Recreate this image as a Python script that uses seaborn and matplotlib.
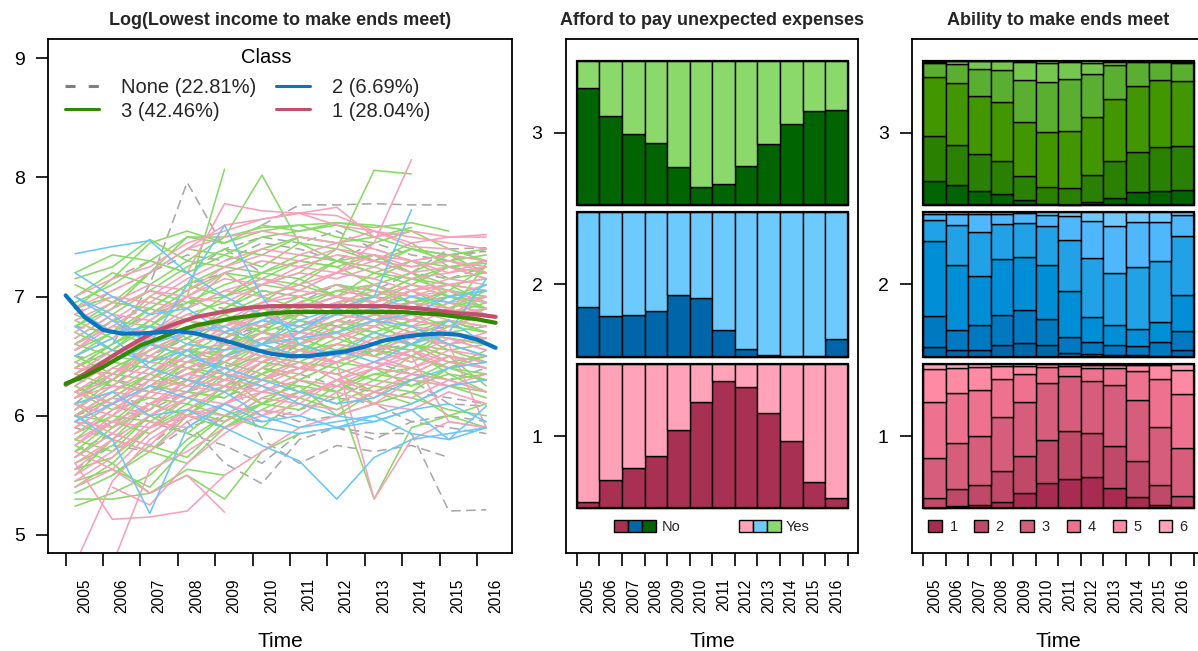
import numpy as np
import pandas as pd
import matplotlib
matplotlib.use("Agg")
import matplotlib.pyplot as plt
import seaborn as sns
from matplotlib.patches import Rectangle
from matplotlib.lines import Line2D
from matplotlib.legend_handler import HandlerTuple

sns.set_theme(style="ticks")
plt.rcParams["font.family"] = ["Liberation Sans", "DejaVu Sans"]

# ---------------------------------------------------------------- data
years = [2005, 2006, 2007, 2008, 2009, 2010, 2011, 2012, 2013, 2014, 2015, 2016]
year_labels = [str(y) for y in years]

# observation times of the panel waves (continuous time axis)
wave_times = [2005.25, 2006.25, 2007.25, 2008.25, 2009.25, 2010.25,
              2011.25, 2012.25, 2013.25, 2014.25, 2015.25, 2016.25]

class_names = ["None", "3", "2", "1"]
class_labels = ["None (22.81%)", "3 (42.46%)", "2 (6.69%)", "1 (28.04%)"]

# individual trajectories of log(lowest income to make ends meet)
traj_none = [
    [6.40, 6.60, 7.10, 7.96, 7.40, 7.20, None, None, None, None, None, None],
    [None, None, None, None, None, 7.60, 7.77, 7.77, 7.78, 7.77, 7.77, None],
    [6.60, 6.80, 6.90, 7.10, 7.20, 7.30, 7.25, 7.35, 7.30, 7.20, 7.40, 7.41],
    [5.90, 5.80, 6.00, 5.95, 5.60, 5.43, 5.80, 5.90, 5.85, 5.85, 5.20, 5.21],
    [6.20, 6.30, 6.25, 6.40, 6.50, 6.45, 6.60, 6.50, 6.55, 6.60, 6.50, 6.45],
    [6.00, 6.15, 6.10, 6.20, 6.30, 6.20, 6.35, 6.25, 6.20, 6.30, 6.10, 6.08],
    [6.75, 6.70, 6.85, 6.95, 6.90, 7.05, 7.00, 7.10, 7.00, 6.95, 7.05, 6.95],
    [5.70, 5.85, 5.75, 6.00, 5.90, 6.05, 5.95, 6.00, 6.10, 5.95, 5.90, 5.85],
    [6.50, 6.45, 6.60, 6.70, 6.65, 6.75, 6.70, 6.65, 6.80, 6.70, 6.75, 6.75],
    [None, 7.15, 7.30, 7.20, 7.40, 7.50, 7.45, 7.55, 7.40, 7.30, 7.35, 7.38],
    [6.30, 6.25, 6.50, 6.40, 6.45, 5.80, 5.60, 5.75, 5.70, 5.75, 5.65, None],
    [6.10, 6.35, 6.55, 6.70, 6.60, 6.80, 6.85, 6.75, 6.90, 6.95, 6.85, 6.90],
    [5.55, 5.75, 5.70, 5.90, 6.00, 5.95, 6.05, 6.15, 6.10, 6.20, 6.15, 6.10],
    [6.85, 7.05, 7.20, 7.35, 7.30, 7.45, 7.40, 7.30, 7.45, 7.35, 7.30, 7.40],
    [6.35, 6.55, 6.50, 6.65, 6.80, 6.75, 6.85, 6.95, 6.85, 6.80, 6.90, 6.85],
    [5.80, 5.95, 6.05, 6.20, 6.15, 6.30, 6.40, 6.35, 6.45, 6.35, 6.30, 6.40],
    [None, None, None, 6.70, 6.60, 6.75, 6.95, 7.10, 7.05, 7.20, 7.15, 7.25],
    [6.00, 6.10, 5.95, 5.85, 5.75, 5.60, 5.85, 5.90, 5.80, 5.95, 6.00, 5.95],
]

traj_class3 = [
    [6.45, 6.60, 6.75, 7.00, 8.07, None, None, None, None, None, None, None],
    [None, 6.90, 7.20, 7.50, 7.50, 8.02, 7.45, 7.30, 7.35, 7.20, 7.00, 7.05],
    [None, None, None, None, 6.90, 7.10, 7.20, 7.40, 8.06, 8.03, None, None],
    [5.24, 5.35, 5.50, 5.80, 6.00, 6.10, 6.20, 6.15, 6.30, 6.25, 6.40, 6.35],
    [7.15, 7.25, 7.48, 7.30, 7.50, 7.58, 7.60, 7.62, 7.60, 7.55, None, None],
    [6.20, 6.35, 6.30, 6.55, 6.60, 6.70, 6.65, 6.80, 6.75, 6.90, 6.85, 6.95],
    [5.90, 6.10, 6.25, 6.20, 6.40, 6.50, 6.45, 6.60, 6.55, 6.70, 6.65, 6.60],
    [6.60, 6.80, 6.75, 6.95, 7.00, 7.10, 7.05, 7.20, 7.15, 7.30, 7.25, 7.28],
    [5.50, 5.80, 5.70, 6.00, 5.90, 6.10, 6.30, 6.20, 6.40, 6.35, 6.50, 6.45],
    [6.85, 6.70, 7.00, 6.90, 7.20, 7.00, 7.10, 7.30, 7.20, 7.10, 7.25, 7.15],
    [6.00, 6.20, 6.40, 6.30, 6.60, 6.50, 6.70, 6.90, 6.80, 6.60, 6.70, 6.75],
    [5.75, 5.60, 5.90, 6.10, 6.00, 6.20, 6.15, 6.30, 6.10, 6.20, 6.00, 5.90],
    [6.35, 6.50, 6.45, 6.70, 6.85, 6.70, 6.90, 7.00, 6.95, 7.05, 6.90, 7.00],
    [7.00, 7.20, 7.10, 7.30, 7.25, 7.40, 7.50, 7.45, 7.50, 7.40, 7.35, 7.30],
    [6.10, 5.90, 6.20, 6.40, 6.35, 6.55, 6.60, 6.50, 6.65, 6.60, 6.45, 6.50],
    [5.40, 5.60, 5.35, 5.50, 5.30, 5.70, 5.85, None, None, None, None, None],
    [6.50, 6.35, 6.60, 6.55, 6.75, 6.90, 6.80, 6.70, 6.85, 6.95, 7.05, 7.00],
    [5.65, 5.90, 6.05, 6.30, 6.20, 6.45, 6.40, 6.55, 6.60, 6.50, 6.70, 6.60],
    [6.75, 6.90, 7.05, 6.95, 7.10, 7.20, 7.30, 7.25, 7.35, 7.20, 7.10, 7.15],
    [None, None, 6.20, 6.40, 6.30, 6.50, 6.60, 6.70, 6.50, 6.60, 6.55, 6.45],
    [6.25, 6.10, 6.30, 6.50, 6.70, 6.60, 6.50, 6.75, 6.70, 6.80, 6.95, 6.90],
    [5.85, 6.00, 5.95, 6.15, 6.25, 6.10, 6.30, 6.45, 6.40, 6.25, 6.35, 6.30],
    [6.95, 7.10, 7.30, 7.20, 7.35, 7.50, 7.55, 7.60, 7.50, 7.58, None, None],
    [6.40, 6.60, 6.80, 6.65, 6.90, 7.05, 7.00, 6.90, 7.10, 7.00, 6.90, 7.05],
    [None, None, None, 6.20, 6.35, 6.10, 6.30, 6.20, 5.30, 5.90, 6.00, 6.10],
    [6.05, 6.25, 6.20, 6.45, 6.50, 6.65, 6.55, 6.60, 6.75, 6.65, 6.80, 6.70],
    [5.95, 5.80, 6.10, 6.00, 6.25, 6.35, 6.20, 6.40, 6.30, 6.50, 6.40, 6.55],
    [6.70, 6.55, 6.80, 7.00, 6.85, 6.95, 7.15, 7.00, 6.90, 7.05, 7.10, 6.95],
    [None, 5.50, 5.70, 5.60, 5.90, 6.05, 6.20, 6.10, 6.25, 6.20, 6.40, 6.30],
    [6.30, 6.45, 6.60, 6.50, 6.55, 6.75, 6.85, 6.95, 6.85, 6.75, 6.80, 6.70],
    [5.60, 5.75, 6.00, 5.85, 6.10, 6.30, 6.25, 6.00, 6.20, 6.15, 6.05, 6.00],
    [7.10, 6.95, 7.20, 7.40, 7.35, 7.25, 7.45, 7.40, 7.30, 7.45, 7.25, 7.30],
    [6.15, 6.30, 6.50, 6.45, 6.60, 6.50, 6.65, 6.55, 6.70, 6.60, 6.50, 6.25],
    [6.55, 6.70, 6.60, 6.80, 6.70, 6.60, 6.85, 6.95, 7.00, 6.90, 7.00, 7.10],
    [5.80, 6.05, 6.15, 6.10, 6.35, 6.30, 6.50, 6.45, 6.60, 6.55, 6.35, 6.20],
    [None, None, None, None, None, 6.40, 6.60, 6.70, 6.80, 6.90, 6.85, 7.28],
    [6.90, 7.00, 6.85, 7.05, 7.20, 7.15, 7.30, 7.25, 7.10, 7.20, 7.35, 7.40],
    [5.45, 5.55, 5.40, 5.75, 6.00, 5.90, 6.15, 6.05, 6.20, 6.10, 6.25, 6.20],
    [6.45, 6.30, 6.55, 6.65, 6.50, 6.70, 6.60, 6.80, 6.90, 6.85, 6.75, 6.90],
    [6.00, 6.15, 6.35, 6.55, 6.45, 6.35, 6.55, 6.70, 6.60, 6.70, 6.60, 6.50],
    [6.65, 6.85, 7.05, 7.25, 7.40, 7.35, 7.50, 7.45, 7.30, 7.40, 7.35, 7.20],
    [5.35, 5.50, 5.75, 5.65, 5.95, 6.10, 6.05, 6.25, 6.35, 6.30, 6.45, 6.40],
    [6.20, 6.05, 6.25, 6.45, 6.40, 6.60, 6.75, 6.65, 6.55, 6.70, 6.80, 6.75],
    [5.70, 5.95, 5.85, 6.05, 6.20, 6.40, 6.30, 6.45, 6.55, 6.45, 6.60, 6.65],
    [6.90, 7.15, 7.45, 7.55, 7.45, 7.60, 7.55, 7.62, 7.58, 7.62, 7.55, None],
    [6.35, 6.25, 6.45, 6.60, 6.80, 6.75, 6.95, 7.05, 7.10, 6.95, 7.05, 6.90],
    [6.05, 6.30, 6.20, 6.35, 6.45, 6.65, 6.60, 6.75, 6.65, 6.80, 6.75, 6.85],
    [5.55, 5.65, 5.90, 6.05, 5.95, 6.15, 6.25, 6.20, 6.35, 6.40, 6.30, 6.35],
    [6.50, 6.70, 6.90, 6.80, 7.00, 7.20, 7.15, 7.30, 7.20, 7.30, 7.15, 7.20],
    [6.80, 6.65, 6.90, 7.10, 7.00, 7.15, 7.10, 7.00, 7.20, 7.15, 7.05, 7.25],
    [5.95, 6.15, 6.35, 6.25, 6.45, 6.60, 6.50, 6.65, 6.80, 6.70, 6.55, 6.60],
    [6.15, 6.40, 6.55, 6.70, 6.65, 6.80, 6.95, 6.85, 6.95, 7.10, 7.00, 6.95],
    [None, 6.30, 6.50, 6.70, 6.65, 6.85, 7.00, 7.10, 7.00, 7.15, 7.25, 7.20],
    [5.30, 5.30, 5.35, 5.55, 5.50, None, None, None, None, None, None, None],
    [6.60, 6.50, 6.70, 6.85, 6.95, 6.85, 7.00, 7.10, 7.05, 6.95, 7.00, 6.90],
    [None, None, None, None, 6.20, 6.40, 6.35, 6.55, 6.50, 6.70, 6.65, 6.60],
    [5.80, 5.70, 6.00, 6.20, 6.15, 6.35, 6.45, 6.40, 6.55, 6.50, 6.40, 6.50],
    [6.40, 6.55, 6.75, 6.70, 6.85, 7.00, 6.90, 7.05, 7.00, 7.15, 7.10, 7.05],
    [6.00, 5.95, 6.20, 6.30, 6.25, 6.45, 6.55, 6.50, 6.60, 6.55, 6.70, 6.65],
    [7.20, 7.35, 7.30, 7.50, 7.45, 7.55, 7.60, 7.50, 7.45, 7.55, 7.40, 7.30],
    [6.25, 6.45, 6.40, 6.60, 6.55, 6.70, 6.80, 6.75, 6.85, 6.80, 6.95, 6.85],
    [5.65, 5.85, 6.10, 6.00, 6.20, 6.30, 6.40, 6.35, 6.20, 6.30, 6.25, 6.15],
    [6.75, 6.95, 6.90, 7.10, 7.25, 7.20, 7.35, 7.30, 7.25, 7.40, 7.30, 7.35],
    [None, None, 6.45, 6.60, 6.80, 6.70, 6.90, 6.85, 7.00, 6.90, 7.05, 7.00],
    [6.10, 6.20, 6.35, 6.55, 6.50, 6.60, 6.70, 6.80, 6.70, 6.60, 6.75, 6.70],
]

traj_class2 = [
    [7.36, 7.42, 7.47, 7.20, 7.00, 6.85, 6.70, 6.90, 6.80, 6.75, 6.60, 6.50],
    [7.00, 6.80, 6.60, 7.10, 7.60, 7.00, 6.60, 6.50, 6.70, 6.60, 6.80, 6.60],
    [None, None, None, 6.20, 6.50, 6.60, 6.80, 6.90, 7.00, 7.73, None, None],
    [6.00, 5.80, 5.18, 5.90, 6.10, 5.95, 6.00, 5.90, 5.95, 6.05, 5.80, 6.08],
    [6.10, 6.20, 6.00, 6.05, 5.90, 5.75, 5.62, 5.30, 5.65, 5.80, 5.85, 5.90],
    [6.90, 6.70, 6.75, 6.60, 6.55, 6.60, 6.50, 6.55, 6.45, 6.60, 6.70, 7.15],
    [6.50, 6.65, 6.40, 6.30, 6.20, 6.00, 5.90, 5.95, 6.00, 5.85, 5.80, 5.90],
    [7.00, 6.85, 6.60, 6.70, 6.75, 6.60, 6.65, 6.70, 6.80, 6.85, 7.00, 7.05],
    [6.30, 6.45, 6.60, 6.50, 6.40, 6.30, 6.20, 6.10, 6.15, 6.30, 6.40, 6.45],
    [6.75, 6.55, 6.45, 6.55, 6.35, 6.25, 6.10, 6.00, 5.95, 6.05, 6.10, 5.95],
    [7.20, 7.00, 6.85, 6.90, 6.70, 6.80, 6.75, 6.85, 6.90, 7.00, 6.95, 7.10],
    [5.95, 6.10, 6.25, 6.15, 6.05, 5.90, 5.85, 5.90, 6.00, 6.10, 6.25, 6.30],
]

traj_class1 = [
    [4.75, 5.45, 5.80, 6.00, 6.10, 6.20, 6.15, 6.30, 6.25, 6.40, None, None],
    [None, 4.75, 5.55, 5.70, 5.90, 6.00, 6.10, 6.05, 6.20, 6.15, 6.30, 6.20],
    [None, None, None, None, None, None, None, 7.20, 7.45, 8.15, None, None],
    [5.60, 5.13, 5.15, 5.20, 5.50, 5.70, 5.90, 6.00, 6.10, 6.05, 6.20, 6.10],
    [6.00, 6.20, 6.40, 6.30, 6.55, 6.70, 6.65, 6.80, 6.75, 6.90, 6.85, 6.90],
    [6.30, 6.50, 6.65, 6.80, 6.75, 6.95, 7.00, 7.10, 6.95, 7.05, 7.15, 7.10],
    [6.55, 6.80, 7.00, 7.20, 7.78, 7.72, 7.70, 7.75, 7.50, 7.55, 7.50, 7.52],
    [5.80, 5.95, 6.10, 6.25, 6.20, 6.40, 6.50, 6.45, 6.60, 6.50, 6.65, 6.55],
    [6.10, 6.00, 6.30, 6.45, 6.60, 6.50, 6.70, 6.85, 6.80, 6.95, 6.90, 6.80],
    [5.50, 5.70, 5.90, 6.00, 5.95, 6.15, 6.10, 6.30, 6.20, 6.35, 6.25, 6.30],
    [6.80, 6.95, 7.10, 7.05, 7.25, 7.35, 7.30, 7.40, 7.35, 7.25, 7.30, 7.20],
    [6.20, 6.40, 6.35, 6.60, 6.70, 6.85, 6.75, 6.90, 7.00, 6.90, 6.85, 7.00],
    [5.65, 5.85, 5.75, 6.05, 6.25, 6.20, 6.35, 6.50, 6.40, 6.55, 6.45, 6.40],
    [6.45, 6.30, 6.60, 6.75, 6.70, 6.90, 6.85, 6.95, 7.05, 7.00, 7.10, 7.05],
    [5.95, 6.15, 6.05, 6.30, 6.40, 6.30, 6.50, 6.60, 6.55, 6.45, 6.60, 6.50],
    [5.40, 5.55, 5.35, 5.50, 5.19, None, None, None, None, None, None, None],
    [6.65, 6.85, 6.80, 7.00, 7.15, 7.10, 7.25, 7.20, 7.35, 7.30, 7.20, 7.25],
    [6.00, 5.85, 6.10, 6.20, 6.35, 6.50, 6.40, 6.45, 5.30, 5.80, 5.95, 5.90],
    [6.90, 7.05, 7.20, 7.40, 7.60, 7.65, 7.70, 7.60, 7.55, 7.45, 7.50, 7.50],
    [5.75, 6.00, 6.20, 6.15, 6.30, 6.45, 6.55, 6.50, 6.65, 6.70, 6.60, 6.70],
    [6.35, 6.55, 6.50, 6.70, 6.65, 6.80, 6.90, 7.00, 6.90, 6.80, 6.95, 6.85],
    [6.15, 6.25, 6.45, 6.40, 6.50, 6.60, 6.70, 6.65, 6.75, 6.85, 6.70, 6.60],
    [5.90, 6.10, 6.00, 6.20, 6.35, 6.30, 6.45, 6.30, 6.40, 6.50, 5.95, 5.90],
    [6.60, 6.75, 6.95, 6.90, 7.05, 7.00, 7.10, 7.20, 7.15, 7.05, 7.10, 7.15],
    [None, None, None, 7.40, 7.50, 7.55, 7.50, 7.45, 7.55, 7.42, 7.40, None],
    [5.55, 5.80, 5.70, 5.95, 6.10, 6.00, 6.20, 6.25, 6.15, 6.35, 6.30, 6.20],
    [6.25, 6.45, 6.60, 6.55, 6.75, 6.85, 6.95, 6.90, 7.00, 7.10, 7.05, 6.95],
    [5.85, 6.05, 6.25, 6.35, 6.30, 6.50, 6.60, 6.70, 6.60, 6.75, 6.70, 6.65],
    [6.50, 6.65, 6.85, 7.00, 6.95, 7.10, 7.20, 7.15, 7.25, 7.15, 7.20, 7.30],
    [5.70, 5.55, 5.85, 6.05, 6.00, 6.20, 6.30, 6.25, 6.40, 6.35, 6.50, 6.45],
    [6.05, 6.25, 6.20, 6.40, 6.55, 6.65, 6.60, 6.75, 6.85, 6.80, 6.75, 6.85],
    [7.00, 7.15, 7.25, 7.45, 7.55, 7.65, 7.70, 7.68, 7.55, 7.50, 7.45, 7.40],
    [5.45, 5.65, 5.95, 5.90, 6.10, 6.25, 6.15, 6.30, 6.45, 6.40, 6.55, 6.50],
    [6.40, 6.35, 6.55, 6.70, 6.80, 6.75, 6.90, 7.00, 6.95, 7.05, 6.95, 7.00],
    [6.15, 6.35, 6.50, 6.45, 6.65, 6.80, 6.75, 6.85, 6.80, 6.90, 6.80, 6.75],
    [5.95, 5.90, 6.10, 6.30, 6.25, 6.45, 6.55, 6.45, 6.60, 6.70, 6.65, 6.55],
    [6.70, 6.90, 7.05, 7.00, 7.20, 7.30, 7.25, 7.35, 7.30, 7.20, 7.25, 7.15],
    [5.60, 5.80, 6.00, 6.15, 6.10, 6.30, 6.40, 6.35, 6.45, 6.55, 6.40, 6.45],
    [6.30, 6.50, 6.70, 6.85, 6.80, 6.95, 7.05, 7.00, 7.10, 7.00, 7.05, 6.95],
    [None, 5.40, 5.25, 5.60, 5.85, 6.05, 6.00, 6.20, 6.10, 6.30, 6.25, 6.35],
    [6.00, 6.20, 6.15, 6.35, 6.50, 6.45, 6.65, 6.70, 6.60, 6.70, 6.60, 6.65],
    [6.55, 6.75, 6.70, 6.90, 7.05, 7.15, 7.05, 7.20, 7.30, 7.25, 7.30, 7.25],
    [5.75, 5.95, 5.90, 6.15, 6.30, 6.25, 6.40, 6.55, 6.50, 6.40, 6.50, 6.40],
    [6.20, 6.10, 6.35, 6.50, 6.45, 6.65, 6.70, 6.65, 6.80, 6.75, 6.90, 6.80],
    [6.85, 7.00, 6.95, 7.15, 7.30, 7.40, 7.35, 7.45, 7.40, 7.30, 7.35, 7.30],
    [5.90, 6.10, 6.30, 6.25, 6.40, 6.55, 6.50, 6.60, 6.55, 6.65, 6.60, 5.90],
]

# smoothed class trajectories
smooth_times = [2005.0, 2005.5, 2006.0, 2006.5, 2007.0, 2007.5, 2008.0, 2008.5,
                2009.0, 2009.5, 2010.0, 2010.5, 2011.0, 2011.5, 2012.0, 2012.5,
                2013.0, 2013.5, 2014.0, 2014.5, 2015.0, 2015.5, 2016.0, 2016.5]
smooth_class1 = [6.26, 6.35, 6.45, 6.55, 6.64, 6.72, 6.78, 6.83, 6.86, 6.89, 6.91, 6.92,
                 6.92, 6.92, 6.92, 6.92, 6.92, 6.92, 6.91, 6.90, 6.88, 6.86, 6.85, 6.83]
smooth_class3 = [6.27, 6.33, 6.41, 6.50, 6.59, 6.65, 6.71, 6.76, 6.79, 6.82, 6.84, 6.86,
                 6.87, 6.87, 6.87, 6.87, 6.87, 6.87, 6.87, 6.86, 6.85, 6.83, 6.81, 6.78]
smooth_class2 = [7.01, 6.83, 6.72, 6.69, 6.69, 6.70, 6.71, 6.69, 6.65, 6.61, 6.56, 6.52,
                 6.50, 6.50, 6.52, 6.54, 6.58, 6.63, 6.66, 6.68, 6.69, 6.68, 6.64, 6.57]

# afford to pay unexpected expenses: share answering "No" (%)
afford_no_class3 = [81.2, 61.6, 49.3, 43.3, 26.2, 12.3, 14.6, 27.3, 42.6, 56.0, 65.3, 65.7]
afford_no_class2 = [34.4, 28.1, 29.1, 31.9, 43.0, 40.9, 18.8, 5.3, 1.4, 0.5, 0.5, 12.1]
afford_no_class1 = [4.2, 19.7, 28.1, 36.0, 54.5, 73.8, 87.9, 83.8, 65.7, 46.2, 18.1, 7.4]
afford_labels = ["No", "Yes"]

# ability to make ends meet: shares of answers 1..6 per year (%)
ends_labels = ["1", "2", "3", "4", "5", "6"]
ends_class3 = [
    [17.1, 13.9, 10.0, 7.9, 3.7, 1.0, 0.5, 2.3, 5.1, 9.3, 10.0, 10.4],
    [30.8, 27.8, 25.5, 22.7, 16.2, 11.8, 11.6, 18.5, 25.5, 27.8, 30.3, 30.8],
    [41.0, 42.8, 39.8, 40.5, 38.0, 37.7, 39.4, 40.5, 43.1, 45.1, 46.1, 44.9],
    [9.5, 13.2, 19.2, 22.5, 28.9, 34.7, 35.9, 29.6, 23.1, 16.9, 12.5, 12.3],
    [0.8, 1.8, 5.1, 6.0, 12.3, 13.2, 11.6, 7.4, 2.3, 0.5, 0.6, 1.0],
    [0.8, 0.5, 0.4, 0.4, 0.9, 1.6, 1.0, 1.6, 0.9, 0.4, 0.5, 0.6],
]
ends_class2 = [
    [6.9, 4.6, 4.6, 7.9, 9.3, 7.9, 2.3, 1.9, 1.0, 1.0, 0.8, 4.6],
    [21.3, 13.9, 17.4, 20.8, 23.1, 18.3, 11.6, 8.3, 6.9, 6.5, 9.3, 13.4],
    [51.9, 44.9, 33.6, 38.9, 36.6, 36.8, 31.3, 17.6, 13.9, 12.0, 13.9, 24.8],
    [14.4, 27.8, 31.0, 24.3, 23.6, 27.3, 35.4, 40.3, 36.1, 42.6, 41.9, 40.0],
    [4.6, 7.9, 12.0, 7.2, 6.9, 7.4, 16.7, 25.7, 32.4, 31.0, 27.1, 14.8],
    [0.9, 0.9, 1.4, 0.9, 0.5, 1.9, 2.3, 6.2, 9.7, 6.9, 6.9, 1.9],
]
ends_class1 = [
    [0.5, 1.4, 2.3, 4.6, 10.6, 17.1, 20.4, 21.5, 13.9, 7.6, 2.3, 1.2],
    [6.5, 11.6, 13.7, 20.6, 25.5, 30.1, 33.1, 30.8, 29.2, 25.0, 14.1, 7.4],
    [27.8, 31.9, 33.6, 37.0, 37.0, 39.1, 37.7, 35.9, 41.7, 41.7, 39.4, 32.4],
    [38.4, 34.0, 31.7, 26.4, 19.0, 11.1, 6.9, 8.6, 12.0, 20.6, 33.6, 37.0],
    [22.9, 16.9, 15.5, 9.0, 6.0, 1.6, 1.0, 2.0, 2.0, 3.7, 9.3, 16.7],
    [3.5, 3.2, 2.3, 1.4, 1.4, 0.5, 0.5, 1.0, 1.0, 1.0, 1.0, 4.2],
]

# ---------------------------------------------------------------- colours
thin_colors = {"None": "#a8a8a8", "3": "#88d966", "2": "#66c8f8", "1": "#f8a0b9"}
bold_colors = {"None": "#808080", "3": "#2f8a00", "2": "#0a74c0", "1": "#c44e6e"}
afford_colors = {
    "3": ["#006400", "#8bd96b"],
    "2": ["#0066aa", "#6ccafc"],
    "1": ["#a83052", "#ffa2ba"],
}
ends_colors = {
    "3": ["#006400", "#2a8000", "#429600", "#5aaf30", "#76c74e", "#8fd96a"],
    "2": ["#0068aa", "#0079c0", "#008fd6", "#22a2e6", "#4fb8fc", "#70c9ff"],
    "1": ["#a82c52", "#c04868", "#d65e7c", "#ee7290", "#ff8aa4", "#ffa2ba"],
}

XTICK_FS = 11.2
YTICK_FS = 14
TITLE_FS = 13
LAB_FS = 15
LEG_FS = 14.5
SPINE_W = 1.3

fig = plt.figure(figsize=(11.98, 6.51), dpi=100)
ax1 = fig.add_axes([0.0403, 0.1501, 0.3873, 0.7895])
ax2 = fig.add_axes([0.4725, 0.1501, 0.2437, 0.7895])
ax3 = fig.add_axes([0.7615, 0.1501, 0.2435, 0.7895])


def style_axis(ax):
    for sp in ax.spines.values():
        sp.set_visible(True)
        sp.set_linewidth(SPINE_W)
        sp.set_color("black")
    ax.tick_params(axis="x", which="major", direction="out", length=9.5, width=1.2,
                   color="black")
    ax.tick_params(axis="y", which="major", direction="out", length=8.8, width=1.2,
                   color="black", labelsize=YTICK_FS, pad=8.2, labelcolor="black")
    ax.tick_params(axis="x", which="minor", length=0, pad=18,
                   labelsize=XTICK_FS, labelcolor="black", labelrotation=90)
    ax.set_xlabel("Time", fontsize=LAB_FS, labelpad=14, color="black")
    ax.set_ylabel("")
    ax.grid(False)


# ---------------------------------------------------------------- panel 1
rows = []
pid = 0
for cls, trajs in [("None", traj_none), ("3", traj_class3),
                   ("1", traj_class1), ("2", traj_class2)]:
    for traj in trajs:
        for t, v in zip(wave_times, traj):
            if v is not None:
                rows.append({"pid": pid, "cls": cls, "time": t, "value": v})
        pid += 1
df_traj = pd.DataFrame(rows)

for cls in ["None", "3", "1", "2"]:
    sub = df_traj[df_traj["cls"] == cls]
    sns.lineplot(data=sub, x="time", y="value", units="pid", estimator=None,
                 color=thin_colors[cls], lw=1.15, sort=False, legend=False, ax=ax1,
                 linestyle=(0, (6.0, 3.4)) if cls == "None" else "-")

df_smooth = pd.DataFrame({
    "time": smooth_times * 3,
    "value": smooth_class1 + smooth_class3 + smooth_class2,
    "cls": ["1"] * len(smooth_times) + ["3"] * len(smooth_times) + ["2"] * len(smooth_times),
})
for cls in ["1", "3", "2"]:
    sns.lineplot(data=df_smooth[df_smooth["cls"] == cls], x="time", y="value",
                 color=bold_colors[cls], lw=3.0, legend=False, ax=ax1)

ax1.set_xlim(2004.535, 2016.945)
ax1.set_ylim(4.845, 9.16)
ax1.set_yticks([5, 6, 7, 8, 9])
ax1.set_xticks(years)
ax1.set_xticklabels([])
ax1.set_xticks([y + 0.5 for y in years], minor=True)
ax1.set_xticklabels(year_labels, minor=True)
style_axis(ax1)
ax1.set_title("Log(Lowest income to make ends meet)", fontsize=TITLE_FS,
              fontweight="bold", pad=10)

handles = []
for cls in class_names:
    ls = (0, (3.3, 4.3)) if cls == "None" else "-"
    handles.append(Line2D([], [], color=bold_colors[cls], lw=2.2, linestyle=ls))
ax1.legend(handles, class_labels, ncol=2, loc="center left",
           bbox_to_anchor=(0.036, 0.8829), borderaxespad=0.0, frameon=False,
           fontsize=LEG_FS, handlelength=1.7, handletextpad=1.1,
           columnspacing=0.95, labelspacing=0.2, borderpad=0.0)
ax1.text(0.4695, 0.9656, "Class", transform=ax1.transAxes, ha="center",
         va="center", fontsize=LEG_FS, color="black")

# ---------------------------------------------------------------- stacked panels
n_years = len(years)
bar_x = np.arange(n_years) + 0.5
HALF = 0.477


def stacked_block(ax, center, shares, colors):
    shares = np.asarray(shares, dtype=float)
    frac = shares / shares.sum(axis=0)
    bottom = np.full(n_years, center - HALF)
    for k in range(frac.shape[0]):
        h = frac[k] * 2 * HALF
        ax.bar(bar_x, h, bottom=bottom, width=1.0, color=colors[k],
               edgecolor="black", linewidth=1.0)
        bottom = bottom + h
    ax.add_patch(Rectangle((0, center - HALF), n_years, 2 * HALF, fill=False,
                           edgecolor="black", linewidth=1.6, zorder=3))


def setup_stack_axis(ax, title):
    ax.set_xlim(-0.48, n_years + 0.46)
    ax.set_ylim(0.226, 3.618)
    ax.set_yticks([1, 2, 3])
    ax.set_xticks(np.arange(n_years + 1))
    ax.set_xticklabels([])
    ax.set_xticks(bar_x, minor=True)
    ax.set_xticklabels(year_labels, minor=True)
    style_axis(ax)
    ax.set_title(title, fontsize=TITLE_FS, fontweight="bold", pad=10)


afford_data = {"3": afford_no_class3, "2": afford_no_class2, "1": afford_no_class1}
for center, cls in [(3, "3"), (2, "2"), (1, "1")]:
    no = np.asarray(afford_data[cls], dtype=float)
    stacked_block(ax2, center, [no, 100 - no], afford_colors[cls])
setup_stack_axis(ax2, "Afford to pay unexpected expenses")

leg_handles = []
for j in range(2):
    leg_handles.append(tuple(
        Rectangle((0, 0), 1, 1, facecolor=afford_colors[c][j], edgecolor="black", lw=1.0)
        for c in ["1", "2", "3"]))
ax2.legend(leg_handles, afford_labels, ncol=2, loc="center",
           bbox_to_anchor=(0.5, 0.051), frameon=False, fontsize=10.5,
           handler_map={tuple: HandlerTuple(ndivide=None, pad=0.0)},
           handlelength=2.9, handleheight=0.87, handletextpad=0.35,
           columnspacing=4.0, borderpad=0.0)

ends_data = {"3": ends_class3, "2": ends_class2, "1": ends_class1}
for center, cls in [(3, "3"), (2, "2"), (1, "1")]:
    stacked_block(ax3, center, ends_data[cls], ends_colors[cls])
setup_stack_axis(ax3, "Ability to make ends meet")

ends_handles = [Rectangle((0, 0), 1, 1, facecolor=c, edgecolor="black", lw=1.0)
                for c in ends_colors["1"]]
ax3.legend(ends_handles, ends_labels, ncol=6, loc="center",
           bbox_to_anchor=(0.5, 0.051), frameon=False, fontsize=10.5,
           handlelength=0.95, handleheight=0.87, handletextpad=0.5,
           columnspacing=1.15, borderpad=0.0)

fig.savefig("out.png", dpi=100)
